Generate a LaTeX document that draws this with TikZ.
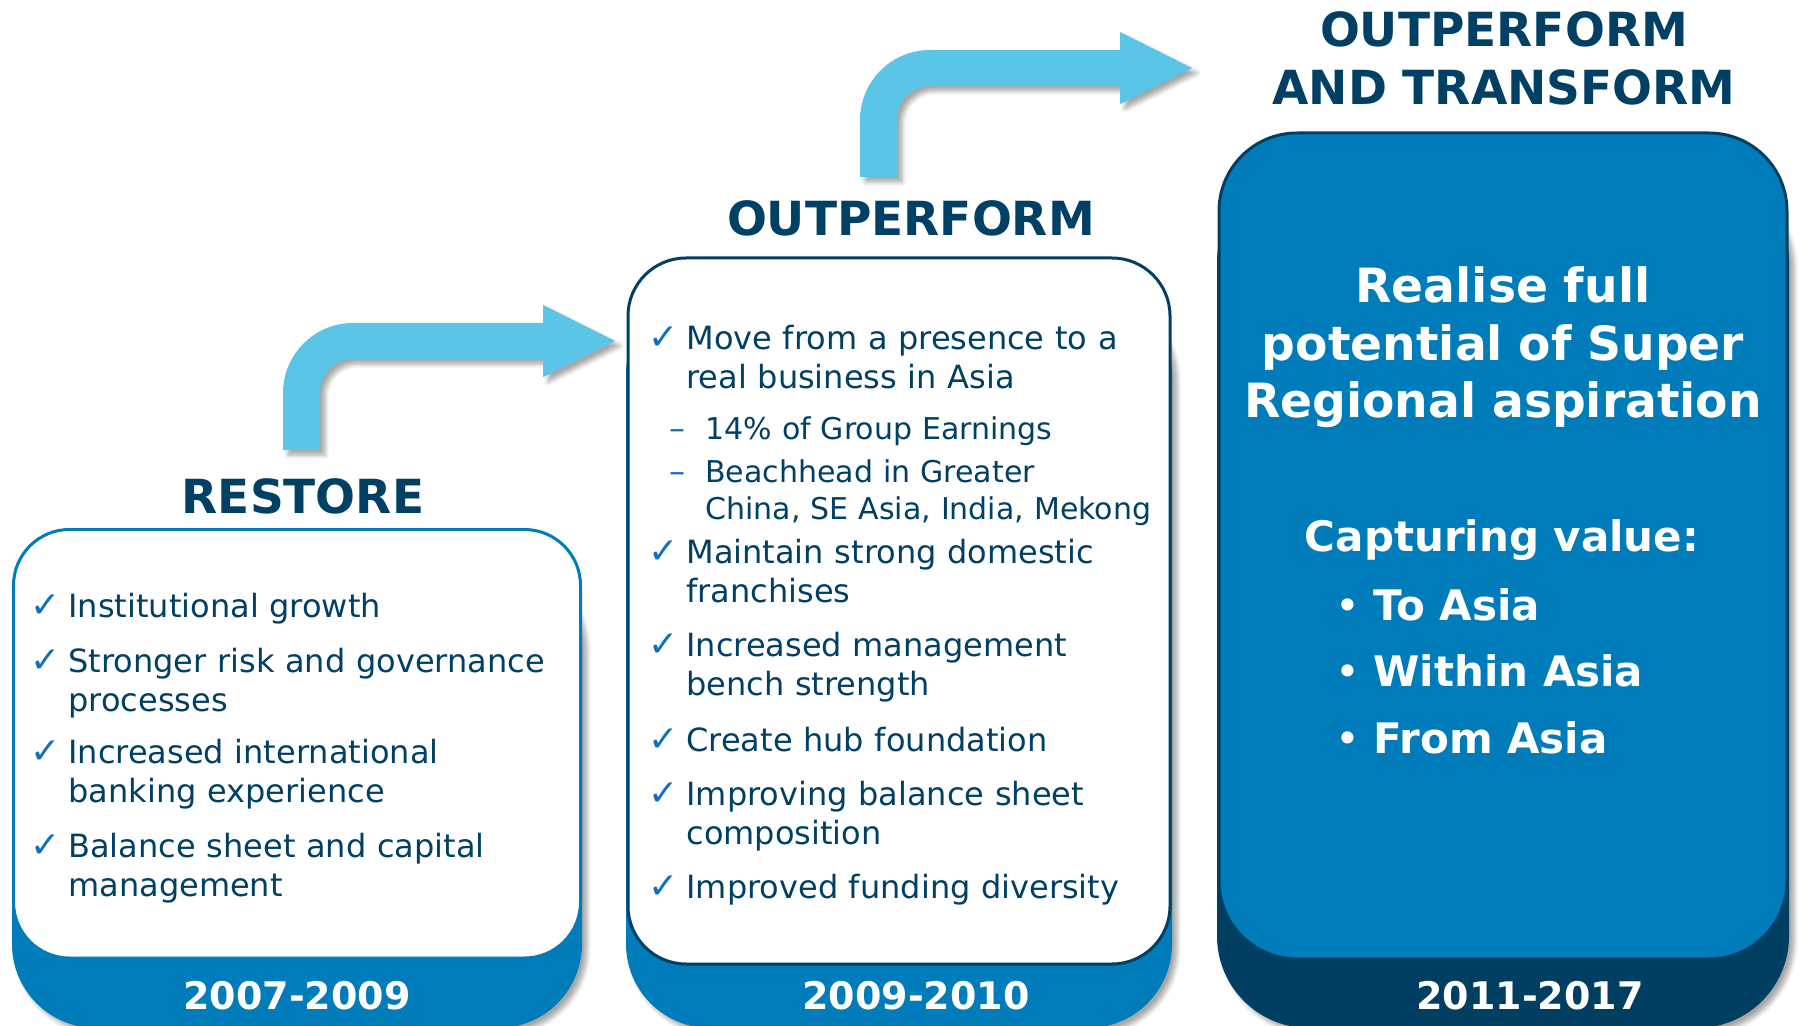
\documentclass[tikz,border=0pt]{standalone}
\usepackage{fontspec}
\setmainfont{DejaVu Sans}
\usetikzlibrary{shadows.blur}

\definecolor{navy}{RGB}{0,64,101}
\definecolor{midblue}{RGB}{0,124,186}
\definecolor{deepblue}{RGB}{0,62,98}
\definecolor{skyblue}{RGB}{91,197,232}
\definecolor{tickblue}{RGB}{16,112,192}

\tikzset{
  heading/.style={font=\fontsize{23.5}{29}\selectfont\bfseries, text=navy,
    anchor=base, inner sep=0pt, text width=320pt, align=center},
  period/.style={font=\fontsize{19}{22}\selectfont\bfseries, text=white,
    anchor=base, inner sep=0pt},
  point/.style={font=\fontsize{16}{19.5}\selectfont, text=navy,
    anchor=base west, inner sep=0pt, text width=250pt, align=left},
  subpoint/.style={point, font=\fontsize{15}{18.5}\selectfont},
  tick/.style={font=\fontsize{18}{20}\selectfont, text=tickblue,
    anchor=base west, inner sep=0pt},
  aim/.style={font=\fontsize{23.6}{28.75}\selectfont\bfseries, text=white,
    anchor=base, inner sep=0pt, text width=280pt, align=center},
  value/.style={font=\fontsize{21}{25}\selectfont\bfseries, text=white,
    inner sep=0pt},
  shade/.style={blur shadow={shadow xshift=2.5pt, shadow yshift=-2.5pt,
    shadow blur steps=6, shadow opacity=35}},
}

\begin{document}
\begin{tikzpicture}[x=0.5pt,y=-0.5pt]
  \useasboundingbox (0,0) rectangle (1799,1026);

  %%%%%%%%%%%%%%%%%%%%%%%%%%%%%%%%%%%%%%%%%%%%%%%%%%%%%%%%%%%%%%%%%%%%%%%%%%%
  %%%%  Arrows
  \foreach \dx/\dy in {0/0, 577/-273}
  {\fill[skyblue,shade,shift={(\dx,\dy)}] (283,450) -- (283,393)
      arc (180:270:70) -- (543,323) -- (543,305) -- (615,341)
      -- (543,377) -- (543,359) -- (353,359)
      arc (270:180:33) -- (320,450) -- cycle;
  };

  %%%%%%%%%%%%%%%%%%%%%%%%%%%%%%%%%%%%%%%%%%%%%%%%%%%%%%%%%%%%%%%%%%%%%%%%%%%
  %%%%  Restore
  \fill[midblue,shade,rounded corners=42pt] (12,560) rectangle (582,1028);
  \draw[midblue,fill=white,line width=1.5pt,rounded corners=28pt]
    (13.5,529.5) rectangle (580.5,958);
  \node[heading] (restore) at (303,513) {RESTORE};
  \node[period] (yr1) at (297,1009) {2007-2009};

  \foreach \y/\txt [count=\i] in {617/{Institutional growth},
      672/{Stronger risk and governance\\processes},
      763/{Increased international\\banking experience},
      857/{Balance sheet and capital\\management}}
  {\node[tick] (rt\i) at (30,\y) {✓};
   \node[point] (r\i) at (68,\y) {\txt};
  };

  %%%%%%%%%%%%%%%%%%%%%%%%%%%%%%%%%%%%%%%%%%%%%%%%%%%%%%%%%%%%%%%%%%%%%%%%%%%
  %%%%  Outperform
  \fill[midblue,shade,rounded corners=42pt] (626,290) rectangle (1172,1028);
  \draw[navy,fill=white,line width=1.5pt,rounded corners=29pt]
    (628,258) rectangle (1170,964);
  \node[heading] (outperform) at (911,236) {OUTPERFORM};
  \node[period] (yr2) at (916,1009) {2009-2010};

  \foreach \y/\txt [count=\i] in {350/{Move from a presence to a\\real business in Asia},
      563/{Maintain strong domestic\\franchises},
      656/{Increased management\\bench strength},
      751/{Create hub foundation},
      805/{Improving balance sheet\\composition},
      898/{Improved funding diversity}}
  {\node[tick] (ot\i) at (648,\y) {✓};
   \node[point] (o\i) at (686,\y) {\txt};
  };
  \foreach \y/\txt [count=\i] in {440/{14\% of Group Earnings},
      482/{Beachhead in Greater\\China, SE Asia, India, Mekong}}
  {\node[tick,font=\fontsize{16}{18}\selectfont] (od\i) at (669,\y) {–};
   \node[subpoint] (s\i) at (705,\y) {\txt};
  };

  %%%%%%%%%%%%%%%%%%%%%%%%%%%%%%%%%%%%%%%%%%%%%%%%%%%%%%%%%%%%%%%%%%%%%%%%%%%
  %%%%  Outperform and transform
  \fill[deepblue,shade,rounded corners=46pt] (1217,170) rectangle (1789,1028);
  \draw[navy,fill=midblue,line width=1.5pt,rounded corners=39pt]
    (1219,133) rectangle (1787,959);
  \node[heading] (transform) at (1504,47) {OUTPERFORM\\AND TRANSFORM};
  \node[period] (yr3) at (1530,1009) {2011-2017};

  \node[aim] (aspire) at (1503,303) {Realise full\\potential of Super\\Regional aspiration};
  \node[value,anchor=base] (capture) at (1502,551) {Capturing value:};
  \foreach \y/\txt [count=\i] in {620/To Asia, 686/Within Asia, 753/From Asia}
  {\node[value,anchor=base west,font=\fontsize{21}{25}\selectfont] (dot\i) at (1335,\y) {•};
   \node[value,anchor=base west] (v\i) at (1373,\y) {\txt};
  };
\end{tikzpicture}
\end{document}
